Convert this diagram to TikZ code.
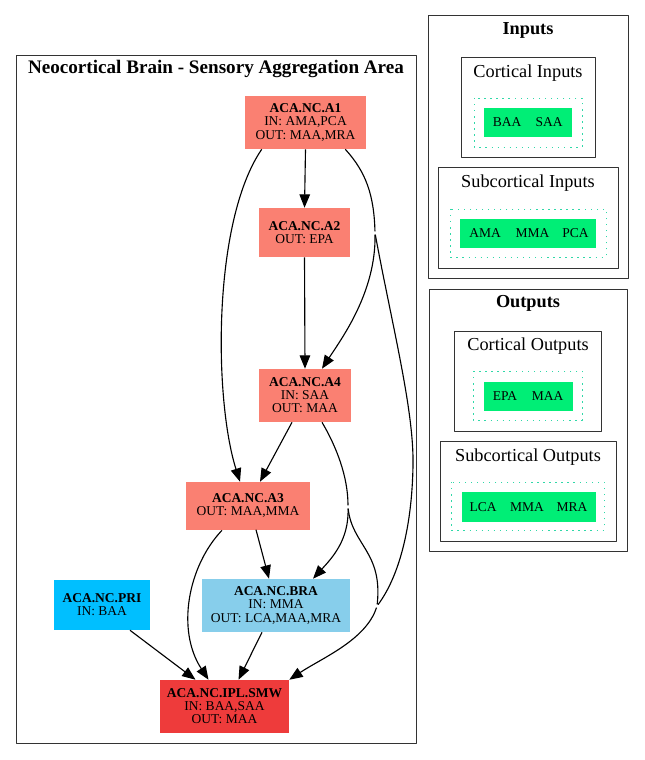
\documentclass[tikz,border=0pt]{standalone}
\usepackage{fontspec}
\setmainfont{Liberation Serif}
\usetikzlibrary{arrows.meta,calc}

\definecolor{areacol}{HTML}{FA8072}
\definecolor{bracol}{HTML}{87CEEB}
\definecolor{pricol}{HTML}{00BFFF}
\definecolor{iplcol}{HTML}{EE3B3B}
\definecolor{sigcol}{HTML}{00EE76}
\definecolor{dotcol}{HTML}{30D8A8}

\tikzset{
  area/.style={rectangle, inner sep=0pt, align=center, font=\fontsize{9.6}{9.3}\selectfont},
  boxsize/.style 2 args={minimum width=#1*0.025cm, minimum height=#2*0.025cm},
  cluster/.style={draw=black!80, line width=0.7pt},
  ctitle/.style={inner sep=0pt, font=\fontsize{13}{15}\selectfont},
  sigbox/.style={draw=dotcol, line width=0.7pt, dash pattern=on 1pt off 3.3pt},
  sigfill/.style={rectangle, fill=sigcol, inner sep=0pt},
  sig/.style={inner sep=0pt, font=\fontsize{9.6}{9.3}\selectfont},
  link/.style={line width=0.8pt},
  edge/.style={link, ->},
  intosplit/.style={shorten >=1.2pt},
  fromsplit/.style={shorten <=1.2pt},
}

\begin{document}
\begin{tikzpicture}[x=0.025cm, y=-0.025cm, line join=round, >={Triangle[length=9.5pt,width=7.5pt]}]
  \useasboundingbox (0,0) rectangle (644,760);

  % cluster of the brain area
  \draw[cluster] (16,55) rectangle (416,743);
  \node[ctitle, font=\fontsize{13.6}{15}\selectfont] (t-nc) at (216,69) {\textbf{Neocortical Brain - Sensory Aggregation Area}};

  % areas
  \node[area, fill=areacol, boxsize={121}{53}] (a1) at (305.5,122.5) {\textbf{ACA.NC.A1}\\IN: AMA,PCA\\OUT: MAA,MRA};
  \node[area, fill=areacol, boxsize={91}{49}] (a2) at (304.5,232.5) {\textbf{ACA.NC.A2}\\OUT: EPA};
  \node[area, fill=areacol, boxsize={92}{53}] (a4) at (305,395.5) {\textbf{ACA.NC.A4}\\IN: SAA\\OUT: MAA};
  \node[area, fill=areacol, boxsize={124}{48}] (a3) at (248,506) {\textbf{ACA.NC.A3}\\OUT: MAA,MMA};
  \node[area, fill=bracol, boxsize={148}{53}] (bra) at (276,605.5) {\textbf{ACA.NC.BRA}\\IN: MMA\\OUT: LCA,MAA,MRA};
  \node[area, fill=pricol, boxsize={96}{50}] (pri) at (102,605) {\textbf{ACA.NC.PRI}\\IN: BAA};
  \node[area, fill=iplcol, boxsize={129}{53}] (ipl) at (224.5,706.5) {\textbf{ACA.NC.IPL.SMW}\\IN: BAA,SAA\\OUT: MAA};

  % split and merge points of the concentrated edges
  \coordinate (s1) at (375,233);
  \coordinate (s2) at (348,507);
  \coordinate (m) at (377,606);

  % edges
  \draw[edge] (a1.south) -- (a2.north);
  \draw[edge] (a2.south) -- (a4.north);
  \draw[link, intosplit] ($(a1.south east)+(-21,0)$) .. controls (366,172) and (374,195) .. (s1);
  \draw[edge, fromsplit] (s1) .. controls (376,292) and (342,338) .. ($(a4.north)+(17,0)$);
  \draw[link, fromsplit, intosplit] (s1) .. controls (392,325) and (414,410) .. (413,465) .. controls (412,530) and (398,578) .. (m);
  \draw[edge] ($(a1.south west)+(17,0)$) .. controls (212,222) and (214,400) .. ($(a3.north)+(-8,0)$);
  \draw[edge] ($(a4.south)+(-13,0)$) -- ($(a3.north)+(12,0)$);
  \draw[link, intosplit] ($(a4.south)+(17,0)$) .. controls (336,446) and (348,476) .. (s2);
  \draw[edge, fromsplit] (s2) .. controls (349,540) and (332,558) .. ($(bra.north)+(37,0)$);
  \draw[link, fromsplit, intosplit] (s2) .. controls (352,545) and (383,552) .. (m);
  \draw[edge, fromsplit] (m) .. controls (366,640) and (322,658) .. (ipl.north east);
  \draw[edge] ($(a3.north)+(8,48)$) -- ($(bra.north)+(-7,0)$);
  \draw[edge] ($(a3.south)+(-26,0)$) .. controls (188,566) and (176,630) .. ($(ipl.north)+(-16,0)$);
  \draw[edge] ($(bra.south)+(-14,0)$) -- ($(ipl.north)+(14,0)$);
  \draw[edge] ($(pri.south)+(28,0)$) -- ($(ipl.north)+(-29,0)$);

  % inputs
  \draw[cluster] (428,15) rectangle (628,278);
  \node[ctitle] (t-in) at (528,30) {\textbf{Inputs}};
  \draw[cluster] (461,57) rectangle (595,157);
  \node[ctitle] (t-ci) at (528,73) {Cortical Inputs};
  \draw[sigbox] (474,98) rectangle (582,147);
  \node[sigfill, boxsize={88}{29}] (ci) at (528,122.5) {};
  \foreach \t/\x in {BAA/507, SAA/549}
    \node[sig] (ci-\t) at (\x,122.5) {\t};
  \draw[cluster] (438,167) rectangle (618,268);
  \node[ctitle] (t-si) at (528,183) {Subcortical Inputs};
  \draw[sigbox] (450,209) rectangle (606,257);
  \node[sigfill, boxsize={136}{29}] (si) at (528,233.5) {};
  \foreach \t/\x in {AMA/485, MMA/532.5, PCA/575.5}
    \node[sig] (si-\t) at (\x,233.5) {\t};

  % outputs
  \draw[cluster] (429,289) rectangle (627,551);
  \node[ctitle] (t-out) at (528,303) {\textbf{Outputs}};
  \draw[cluster] (454,331) rectangle (601,431);
  \node[ctitle] (t-co) at (528,346) {Cortical Outputs};
  \draw[sigbox] (473,371) rectangle (582,420);
  \node[sigfill, boxsize={89}{29}] (co) at (528.5,396.5) {};
  \foreach \t/\x in {EPA/505, MAA/547.5}
    \node[sig] (co-\t) at (\x,396.5) {\t};
  \draw[cluster] (440,441) rectangle (616,541);
  \node[ctitle] (t-so) at (528,457) {Subcortical Outputs};
  \draw[sigbox] (451,482) rectangle (604,530);
  \node[sigfill, boxsize={134}{30}] (so) at (529,507) {};
  \foreach \t/\x in {LCA/483, MMA/527, MRA/572}
    \node[sig] (so-\t) at (\x,507) {\t};
\end{tikzpicture}
\end{document}
